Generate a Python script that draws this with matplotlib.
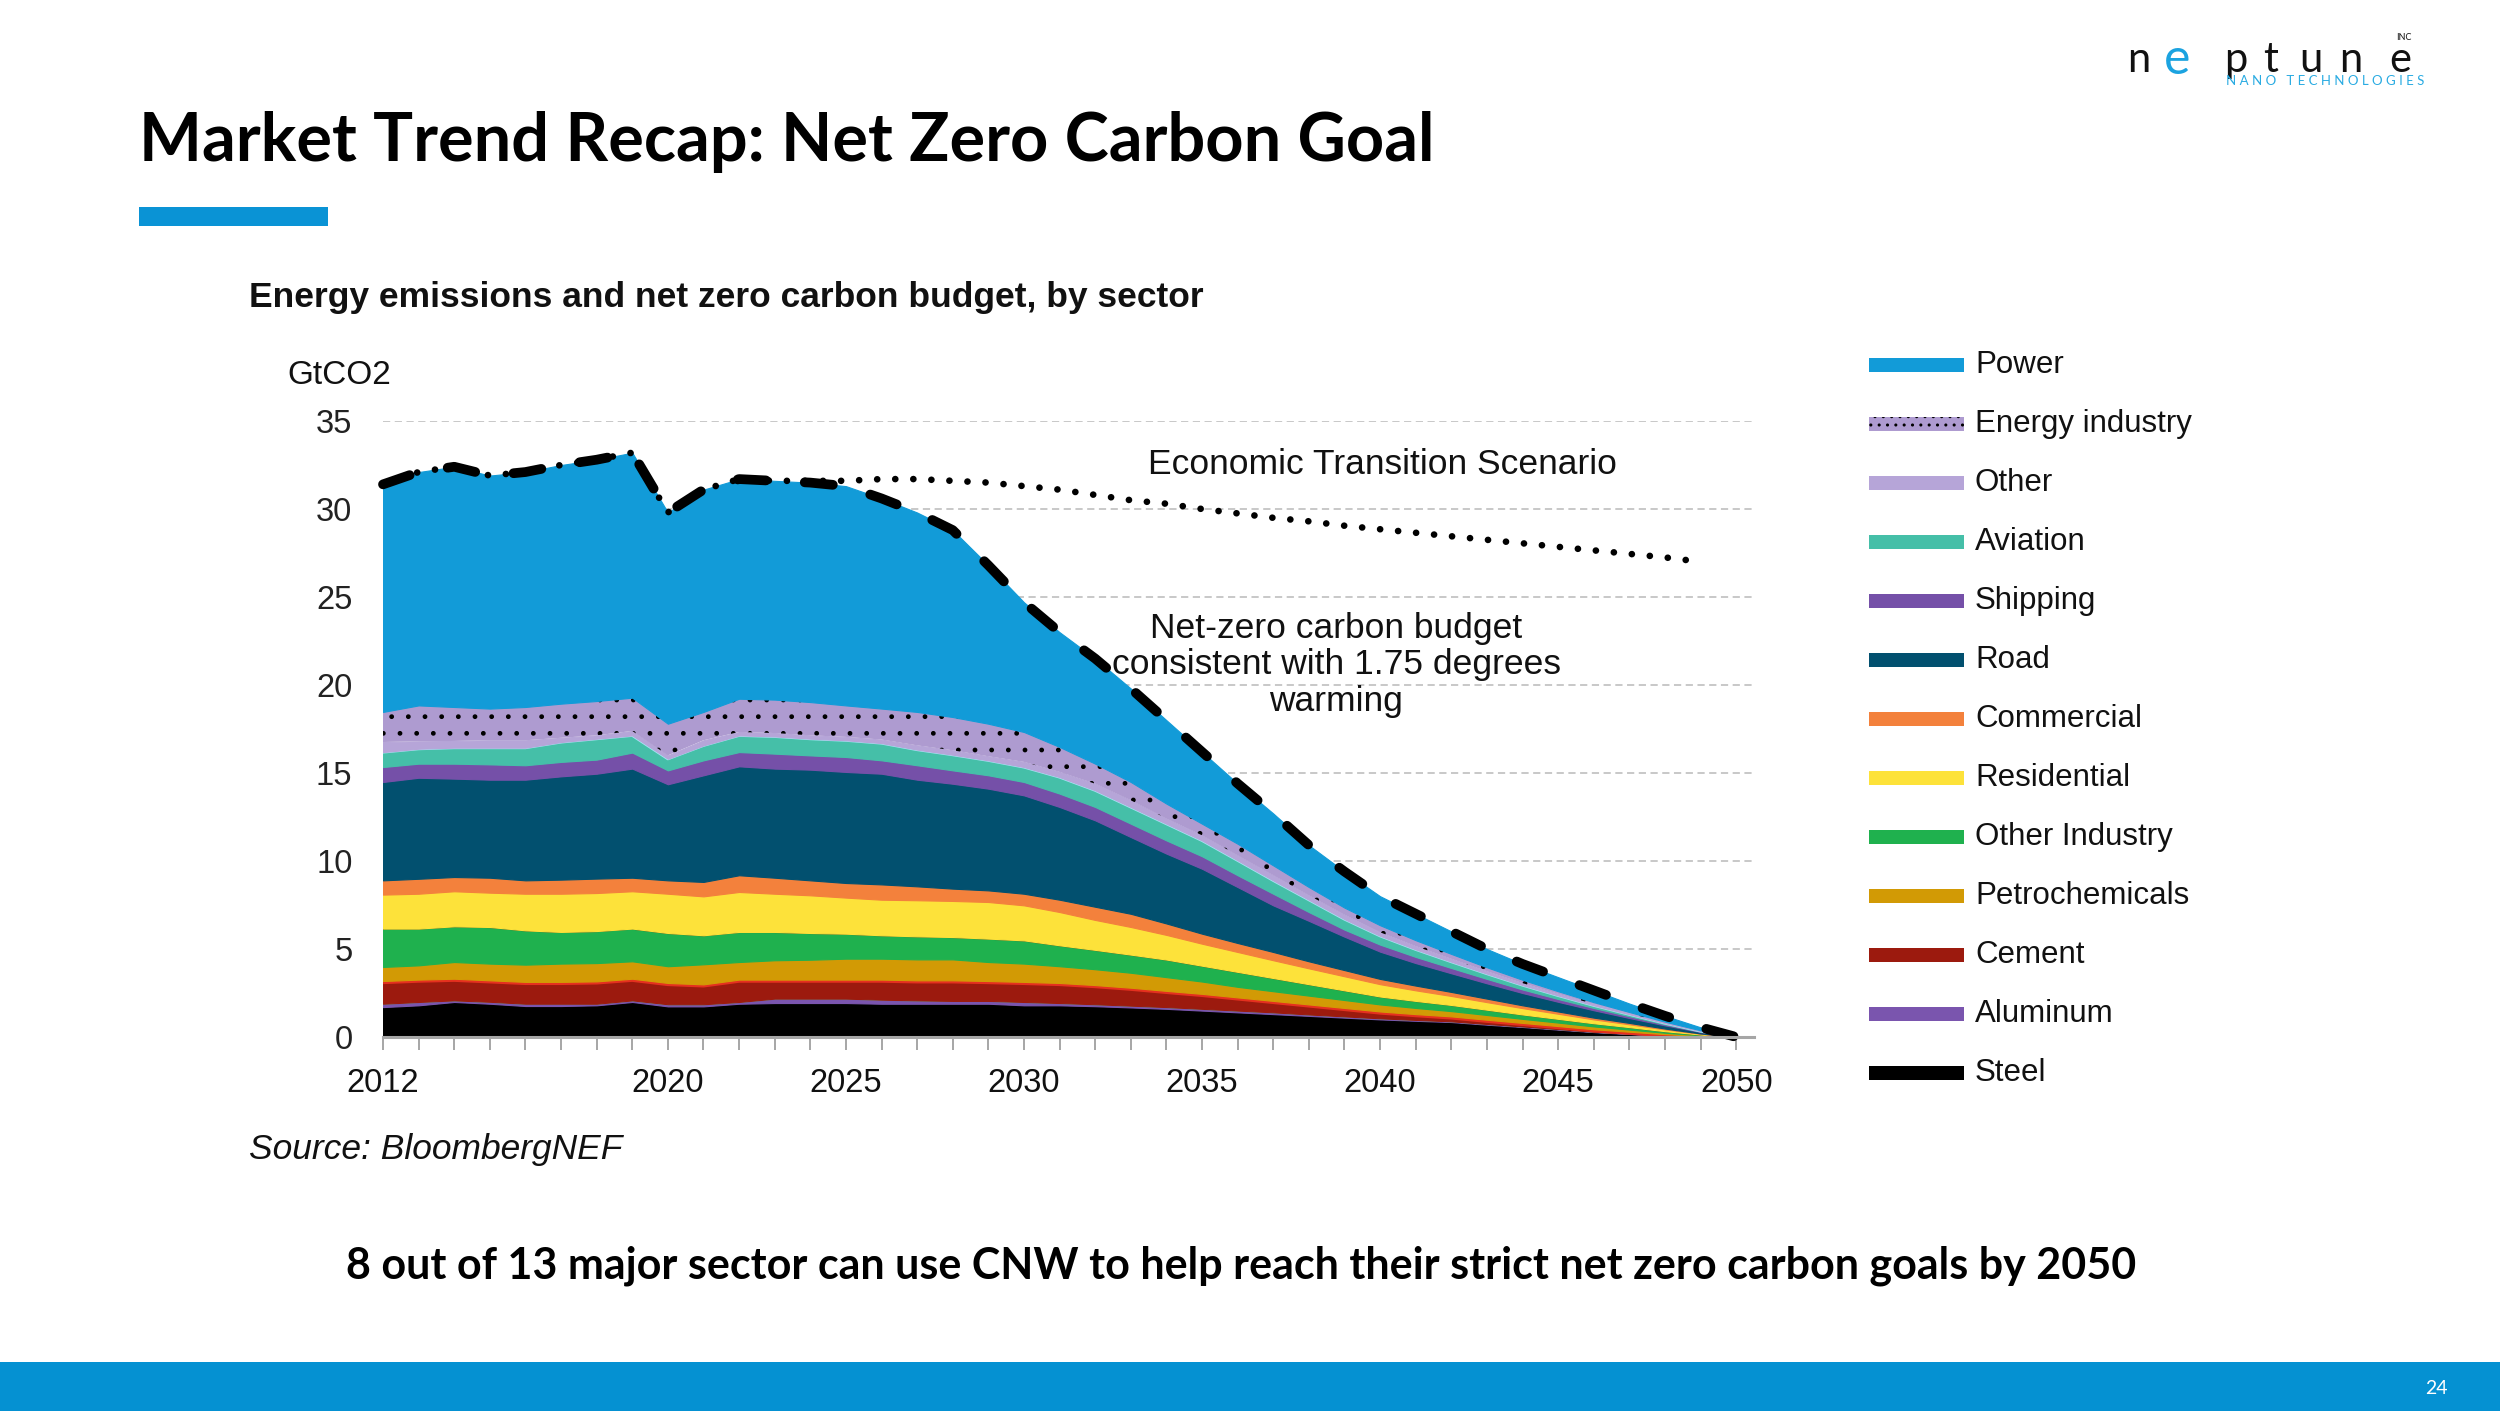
import matplotlib
matplotlib.use("Agg")
import matplotlib.pyplot as plt
from matplotlib.patches import Rectangle
import numpy as np

plt.rcParams['hatch.color'] = 'black'
plt.rcParams['hatch.linewidth'] = 1.0

# ---- data (GtCO2 by sector) ----
years = list(range(2012, 2051))

steel = [1.70, 1.80, 1.99, 1.89, 1.76, 1.76, 1.80, 1.99, 1.74, 1.74, 1.89,
         1.93, 1.93, 1.93, 1.89, 1.89, 1.89, 1.89, 1.80, 1.80,
         1.75, 1.68, 1.60, 1.50, 1.40, 1.30, 1.20, 1.10, 1.00,
         0.92, 0.85, 0.70, 0.57, 0.42, 0.28, 0.17, 0.08, 0.02, 0]
aluminum = [0.19, 0.19, 0.09, 0.11, 0.13, 0.13, 0.09, 0.09, 0.12, 0.12, 0.10,
            0.25, 0.25, 0.25, 0.23, 0.19, 0.16, 0.16, 0.19, 0.13,
            0.11, 0.10, 0.10, 0.10, 0.10, 0.10, 0.08, 0.07, 0.06,
            0.05, 0.04, 0.04, 0.03, 0.03, 0.02, 0.02, 0.01, 0.01, 0]
cement = [1.29, 1.27, 1.23, 1.22, 1.24, 1.24, 1.27, 1.23, 1.21, 1.13, 1.27,
          1.08, 1.08, 1.08, 1.14, 1.14, 1.17, 1.13, 1.14, 1.14,
          1.09, 1.02, 0.92, 0.85, 0.75, 0.65, 0.57, 0.48, 0.39,
          0.33, 0.28, 0.24, 0.20, 0.17, 0.14, 0.11, 0.07, 0.03, 0]
petrochemicals = [0.80, 0.81, 0.95, 0.95, 0.98, 1.04, 1.04, 0.99, 0.95, 1.14, 1.00,
                  1.10, 1.13, 1.19, 1.19, 1.19, 1.19, 1.08, 1.04, 0.95,
                  0.90, 0.85, 0.78, 0.70, 0.60, 0.55, 0.50, 0.45, 0.40,
                  0.35, 0.30, 0.27, 0.23, 0.20, 0.16, 0.12, 0.08, 0.04, 0]
other_industry = [2.18, 2.09, 2.03, 2.08, 1.95, 1.80, 1.82, 1.86, 1.89, 1.65, 1.71,
                  1.61, 1.52, 1.42, 1.33, 1.31, 1.27, 1.33, 1.32, 1.19,
                  1.10, 1.03, 1.00, 0.90, 0.85, 0.75, 0.65, 0.55, 0.45,
                  0.40, 0.35, 0.30, 0.25, 0.21, 0.18, 0.14, 0.09, 0.04, 0]
residential = [1.93, 1.98, 1.99, 1.95, 2.08, 2.17, 2.16, 2.12, 2.23, 2.21, 2.27,
               2.17, 2.14, 2.05, 2.02, 2.05, 2.05, 2.08, 1.99, 1.89,
               1.70, 1.57, 1.40, 1.25, 1.13, 1.01, 0.90, 0.80, 0.70,
               0.60, 0.51, 0.43, 0.36, 0.29, 0.22, 0.16, 0.10, 0.04, 0]
commercial = [0.81, 0.85, 0.81, 0.85, 0.76, 0.80, 0.82, 0.77, 0.76, 0.82, 0.95,
              0.91, 0.85, 0.83, 0.87, 0.79, 0.70, 0.66, 0.66, 0.70,
              0.75, 0.75, 0.65, 0.57, 0.51, 0.47, 0.40, 0.35, 0.30,
              0.27, 0.23, 0.20, 0.16, 0.13, 0.10, 0.08, 0.05, 0.02, 0]
road = [5.59, 5.74, 5.59, 5.57, 5.72, 5.87, 5.96, 6.20, 5.46, 6.06, 6.19,
        6.20, 6.29, 6.31, 6.29, 6.06, 5.96, 5.78, 5.59, 5.27,
        4.91, 4.36, 3.97, 3.69, 3.18, 2.65, 2.30, 1.90, 1.55,
        1.28, 1.06, 0.87, 0.70, 0.55, 0.42, 0.28, 0.18, 0.08, 0]
shipping = [0.85, 0.80, 0.85, 0.87, 0.82, 0.82, 0.80, 0.91, 0.79, 0.85, 0.81,
            0.85, 0.81, 0.85, 0.76, 0.82, 0.76, 0.76, 0.76, 0.76,
            0.76, 0.76, 0.75, 0.71, 0.67, 0.66, 0.50, 0.40, 0.40,
            0.35, 0.30, 0.25, 0.20, 0.16, 0.13, 0.10, 0.06, 0.03, 0]
aviation = [0.85, 0.85, 0.91, 0.95, 1.00, 1.13, 1.19, 0.98, 0.66, 0.85, 0.95,
            0.98, 0.95, 0.95, 0.98, 0.89, 0.89, 0.85, 0.85, 0.94,
            0.95, 0.95, 0.95, 0.90, 0.85, 0.76, 0.70, 0.60, 0.50,
            0.43, 0.36, 0.30, 0.25, 0.20, 0.15, 0.11, 0.07, 0.03, 0]
other = [0.57, 0.42, 0.38, 0.42, 0.42, 0.24, 0.19, 0.25, 0.19, 0.29, 0.19,
         0.19, 0.19, 0.19, 0.20, 0.24, 0.25, 0.23, 0.29, 0.29,
         0.37, 0.38, 0.29, 0.29, 0.28, 0.29, 0.25, 0.25, 0.20,
         0.18, 0.16, 0.13, 0.11, 0.09, 0.07, 0.05, 0.03, 0.02, 0]
energy_industry = [1.71, 2.04, 1.93, 1.80, 1.89, 1.94, 1.95, 1.89, 1.80, 1.61, 1.89,
                   1.90, 1.89, 1.79, 1.76, 1.90, 1.89, 1.85, 1.70, 1.42,
                   1.14, 1.04, 0.85, 0.66, 0.66, 0.56, 0.47, 0.40, 0.40,
                   0.34, 0.28, 0.23, 0.19, 0.15, 0.11, 0.08, 0.05, 0.02, 0]
power = [12.93, 13.26, 13.65, 13.24, 13.35, 13.56, 13.71, 13.92, 12.00, 12.63, 12.48,
         12.43, 12.47, 12.46, 11.94, 11.33, 10.62, 9.00, 7.37, 6.52,
         5.97, 5.31, 4.74, 4.08, 3.42, 2.95, 2.38, 2.05, 1.65,
         1.50, 1.28, 1.04, 0.90, 0.80, 0.67, 0.48, 0.33, 0.17, 0]

# Economic Transition Scenario after it leaves the historic path
econ_years = list(range(2022, 2050))
econ_values = [31.7, 31.6, 31.6, 31.6, 31.7, 31.7, 31.6, 31.5, 31.3, 31.1,
               30.8, 30.5, 30.3, 30.0, 29.75, 29.5, 29.3, 29.05, 28.85, 28.65,
               28.45, 28.25, 28.05, 27.85, 27.65, 27.45, 27.25, 27.0]

sectors = ['Steel', 'Aluminum', 'Cement', 'Petrochemicals', 'Other Industry',
           'Residential', 'Commercial', 'Road', 'Shipping', 'Aviation',
           'Other', 'Energy industry', 'Power']
series = [steel, aluminum, cement, petrochemicals, other_industry, residential,
          commercial, road, shipping, aviation, other, energy_industry, power]
colors = ['#000000', '#7A55AE', '#9C1A0E', '#D29A05', '#1FB14E', '#FDE23A',
          '#F3813C', '#02506F', '#7550A8', '#45BFA8', '#B6A5D8', '#AE9BD0',
          '#129BD8']

year_labels = [2012, 2020, 2025, 2030, 2035, 2040, 2045, 2050]

W, H = 2500, 1411


def fx(px):
    return px / W


def fy(py):
    return 1 - py / H


fig = plt.figure(figsize=(25, 14.11), dpi=100)
fig.patch.set_facecolor('white')
ax = fig.add_axes([fx(383), fy(1037), fx(1754) - fx(383), fy(421) - fy(1037)])

chart_font = ['Liberation Sans', 'DejaVu Sans']
slide_font = ['Lato', 'DejaVu Sans']

# stacked areas
x = np.array(years)
base = np.zeros(len(years))
z = 2
for name, vals, col in zip(sectors, series, colors):
    top = base + np.array(vals)
    if name == 'Energy industry':
        ax.fill_between(x, base, top, facecolor=col, edgecolor='black',
                        linewidth=0, hatch='.', zorder=z)
    else:
        ax.fill_between(x, base, top, facecolor=col, edgecolor=col,
                        linewidth=0.8, zorder=z)
    z += 1
    # thin accent edges seen in the original
    if name == 'Cement':
        ax.plot(x, top, color='#E5301F', lw=4.5, zorder=z, solid_capstyle='butt')
    elif name == 'Aluminum':
        ax.plot(x, top, color='#4EC3B3', lw=1.5, zorder=z)
    elif name == 'Other Industry':
        ax.plot(x, top, color='#3A4A22', lw=1.6, zorder=z)
    elif name == 'Aviation':
        ax.plot(x, top, color='#A4E6F4', lw=2.2, zorder=z)
    z += 1
    base = top

total = base

# net-zero carbon budget (dashed) and Economic Transition Scenario (dotted)
ax.plot(x, total, color='black', lw=7, dashes=(2.9, 4.0),
        dash_capstyle='round', zorder=40, clip_on=False)
hist = x <= econ_years[0]
econ_x = np.concatenate([x[hist], econ_years[1:]])
econ_y = np.concatenate([total[hist], econ_values[1:]])
ax.plot(econ_x, econ_y, color='black', lw=4.8, linestyle=(0, (0.01, 2.7)),
        dash_capstyle='round', zorder=41, clip_on=False)

ax.set_xlim(2012, 2050.5)
ax.set_ylim(0, 35)
ax.set_yticks(range(0, 36, 5))
ax.set_yticklabels([str(v) for v in range(0, 36, 5)], fontsize=23.5,
                   family=chart_font)
ax.set_xticks(years)
ax.set_xticklabels([str(y) if y in year_labels else '' for y in years],
                   fontsize=23.5, family=chart_font)
ax.tick_params(axis='y', length=0, pad=22, colors='#222222')
ax.tick_params(axis='x', length=9, width=1.4, color='#A6A6A6', pad=13,
               labelcolor='#111111')
for s in ['left', 'right', 'top']:
    ax.spines[s].set_visible(False)
ax.spines['bottom'].set_color('#A6A6A6')
ax.spines['bottom'].set_linewidth(2.2)
ax.spines['bottom'].set_zorder(50)
ax.set_axisbelow(True)
ax.yaxis.grid(True, color='#C4C4C4', linestyle=(0, (4, 2.5)), linewidth=1.3)
ax.patch.set_alpha(0)

# chart texts
fig.text(fx(249), fy(297), 'Energy emissions and net zero carbon budget, by sector',
         fontsize=25.5, fontweight='bold', family=chart_font, va='center', color='#111111')
fig.text(fx(287), fy(376), 'GtCO2', fontsize=24, family=chart_font, va='center',
         color='#111111')
fig.text(fx(1382), fy(464), 'Economic Transition Scenario', fontsize=25.5,
         family=chart_font, ha='center', va='center', color='#111111')
fig.text(fx(1336), fy(665), 'Net-zero carbon budget\nconsistent with 1.75 degrees\nwarming',
         fontsize=25.5, family=chart_font, ha='center', va='center',
         linespacing=1.15, color='#111111')
fig.text(fx(249), fy(1150), 'Source: BloombergNEF', fontsize=25.5, style='italic',
         family=chart_font, va='center', color='#111111')

# legend, top to bottom
for i, (name, col) in enumerate(zip(sectors[::-1], colors[::-1])):
    yc = 365 + 59 * i
    rect = Rectangle((fx(1869), fy(yc + 7)), fx(95), 14 / H,
                     transform=fig.transFigure, facecolor=col,
                     edgecolor='black' if name == 'Energy industry' else col,
                     linewidth=0, hatch='..' if name == 'Energy industry' else None)
    fig.patches.append(rect)
    fig.text(fx(1975), fy(yc), name, fontsize=22.5, family=chart_font,
             va='center', color='#111111')

# slide decoration
fig.text(fx(139), fy(142), 'Market Trend Recap: Net Zero Carbon Goal', fontsize=48,
         fontweight='bold', family=slide_font, va='center', color='black')
fig.patches.append(Rectangle((fx(139), fy(226)), fx(189), 19 / H,
                             transform=fig.transFigure, color='#0A93D5', lw=0))
fig.text(fx(1241), fy(1266),
         '8 out of 13 major sector can use CNW to help reach their strict net zero carbon goals by 2050',
         fontsize=31, fontweight='bold', family=slide_font, ha='center', va='center',
         color='black')
fig.patches.append(Rectangle((0, 0), 1, 49 / H, transform=fig.transFigure,
                             color='#0591D2', lw=0))
fig.text(fx(2436), fy(1389), '24', fontsize=14, color='white', family=slide_font,
         ha='center', va='center')

# logo
logo_letters = 'neptune'
logo_x = [2139, 2177, 2236, 2271, 2311, 2351, 2400]
for i, (ch, lx) in enumerate(zip(logo_letters, logo_x)):
    fig.text(fx(lx), fy(60), ch, fontsize=36 if i == 1 else 30, family=slide_font,
             ha='center', va='center',
             color='#1BA3E0' if i == 1 else '#111111')
fig.text(fx(2404), fy(38), 'INC', fontsize=6.5, family=slide_font, ha='center',
         va='center', color='#111111')
fig.text(fx(2325), fy(81), 'N A N O   T E C H N O L O G I E S', fontsize=9.5,
         family=slide_font, ha='center', va='center', color='#29ABE2')

fig.savefig('out.png', dpi=100)
